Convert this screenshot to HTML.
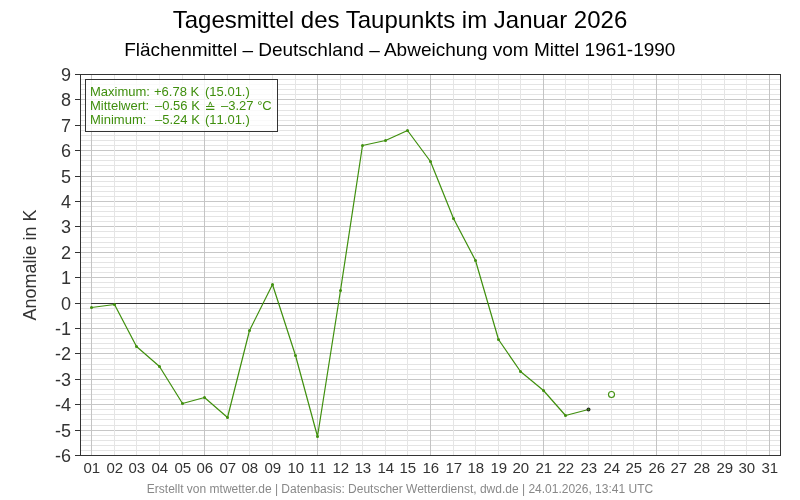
<!DOCTYPE html>
<html lang="de"><head><meta charset="utf-8">
<title>Tagesmittel des Taupunkts im Januar 2026</title>
<style>
html,body{margin:0;padding:0;background:#ffffff;}
body{width:800px;height:500px;overflow:hidden;}
svg{display:block;will-change:transform;}
text{font-family:"Liberation Sans",sans-serif;}
</style></head><body>
<svg width="800" height="500" viewBox="0 0 800 500">
<rect x="0" y="0" width="800" height="500" fill="#ffffff"/>
<g shape-rendering="crispEdges" stroke-width="1" fill="none">
<path d="M81 79.5H780M81 84.5H780M81 89.5H780M81 94.5H780M81 104.5H780M81 110.5H780M81 115.5H780M81 120.5H780M81 130.5H780M81 135.5H780M81 140.5H780M81 145.5H780M81 155.5H780M81 160.5H780M81 165.5H780M81 171.5H780M81 181.5H780M81 186.5H780M81 191.5H780M81 196.5H780M81 206.5H780M81 211.5H780M81 216.5H780M81 221.5H780M81 231.5H780M81 237.5H780M81 242.5H780M81 247.5H780M81 257.5H780M81 262.5H780M81 267.5H780M81 272.5H780M81 282.5H780M81 287.5H780M81 292.5H780M81 298.5H780M81 308.5H780M81 313.5H780M81 318.5H780M81 323.5H780M81 333.5H780M81 338.5H780M81 343.5H780M81 348.5H780M81 358.5H780M81 364.5H780M81 369.5H780M81 374.5H780M81 384.5H780M81 389.5H780M81 394.5H780M81 399.5H780M81 409.5H780M81 414.5H780M81 419.5H780M81 425.5H780M81 435.5H780M81 440.5H780M81 445.5H780M81 450.5H780" stroke="#e4e4e4"/>
<path d="M81 99.5H780M81 125.5H780M81 150.5H780M81 176.5H780M81 201.5H780M81 226.5H780M81 252.5H780M81 277.5H780M81 303.5H780M81 328.5H780M81 353.5H780M81 379.5H780M81 404.5H780M81 430.5H780" stroke="#c7c7c7"/>
<path d="M114.5 75V455M136.5 75V455M159.5 75V455M182.5 75V455M227.5 75V455M249.5 75V455M272.5 75V455M295.5 75V455M340.5 75V455M362.5 75V455M385.5 75V455M407.5 75V455M453.5 75V455M475.5 75V455M498.5 75V455M520.5 75V455M565.5 75V455M588.5 75V455M611.5 75V455M633.5 75V455M678.5 75V455M701.5 75V455M724.5 75V455M746.5 75V455" stroke="#e5e5e5"/>
<path d="M91.5 75V455M204.5 75V455M317.5 75V455M430.5 75V455M543.5 75V455M656.5 75V455M769.5 75V455" stroke="#c4c4c4"/>
<path d="M91 303.5H770" stroke="#333333"/>
<rect x="80.5" y="74.5" width="700" height="381" stroke="#333333"/>
<path d="M75 74.5H80M75 99.5H80M75 125.5H80M75 150.5H80M75 176.5H80M75 201.5H80M75 226.5H80M75 252.5H80M75 277.5H80M75 303.5H80M75 328.5H80M75 353.5H80M75 379.5H80M75 404.5H80M75 430.5H80M75 455.5H80" stroke="#333333"/>
</g>
<polyline points="91.5,307.5 114.5,304.5 136.5,346.5 159.5,366.5 182.5,403.5 204.5,397.5 227.5,417.5 249.5,330.5 272.5,284.5 295.5,355.5 317.5,436.5 340.5,290.5 362.5,145.5 385.5,140.5 407.5,130.5 430.5,161.5 453.5,218.5 475.5,260.5 498.5,339.5 520.5,371.5 543.5,390.5 565.5,415.5 588.5,409.5" fill="none" stroke="#3f8f0d" stroke-width="1.2" stroke-linejoin="round" stroke-linecap="round"/>
<circle cx="91.5" cy="307.5" r="1.5" fill="#3f8f0d"/>
<circle cx="114.5" cy="304.5" r="1.5" fill="#3f8f0d"/>
<circle cx="136.5" cy="346.5" r="1.5" fill="#3f8f0d"/>
<circle cx="159.5" cy="366.5" r="1.5" fill="#3f8f0d"/>
<circle cx="182.5" cy="403.5" r="1.5" fill="#3f8f0d"/>
<circle cx="204.5" cy="397.5" r="1.5" fill="#3f8f0d"/>
<circle cx="227.5" cy="417.5" r="1.5" fill="#3f8f0d"/>
<circle cx="249.5" cy="330.5" r="1.5" fill="#3f8f0d"/>
<circle cx="272.5" cy="284.5" r="1.5" fill="#3f8f0d"/>
<circle cx="295.5" cy="355.5" r="1.5" fill="#3f8f0d"/>
<circle cx="317.5" cy="436.5" r="1.5" fill="#3f8f0d"/>
<circle cx="340.5" cy="290.5" r="1.5" fill="#3f8f0d"/>
<circle cx="362.5" cy="145.5" r="1.5" fill="#3f8f0d"/>
<circle cx="385.5" cy="140.5" r="1.5" fill="#3f8f0d"/>
<circle cx="407.5" cy="130.5" r="1.5" fill="#3f8f0d"/>
<circle cx="430.5" cy="161.5" r="1.5" fill="#3f8f0d"/>
<circle cx="453.5" cy="218.5" r="1.5" fill="#3f8f0d"/>
<circle cx="475.5" cy="260.5" r="1.5" fill="#3f8f0d"/>
<circle cx="498.5" cy="339.5" r="1.5" fill="#3f8f0d"/>
<circle cx="520.5" cy="371.5" r="1.5" fill="#3f8f0d"/>
<circle cx="543.5" cy="390.5" r="1.5" fill="#3f8f0d"/>
<circle cx="565.5" cy="415.5" r="1.5" fill="#3f8f0d"/>
<circle cx="588.5" cy="409.5" r="1.95" fill="#262626"/>
<circle cx="588.5" cy="409.5" r="1.0" fill="#3f8f0d"/>
<circle cx="611.5" cy="394.5" r="3" fill="#ffffff" fill-opacity="0.8" stroke="#3f8f0d" stroke-width="1.1"/>
<rect x="85.5" y="79.5" width="192" height="52" fill="#ffffff" fill-opacity="0.8" stroke="#333333" stroke-width="1" shape-rendering="crispEdges"/>
<g font-size="13px" fill="#3f8f0d">
<text x="90" y="96">Maximum:</text>
<text x="154" y="96">+6.78 K</text>
<text x="205" y="96">(15.01.)</text>
<text x="90" y="110">Mittelwert:</text>
<text x="155" y="110">–0.56 K</text>
<path d="M206 106.5H214.4M206 109.4H214.4" fill="none" stroke="#3f8f0d" stroke-width="1.15"/>
<path d="M208.7 105.8L210.3 101.9L211.9 105.8" fill="none" stroke="#3f8f0d" stroke-width="0.95" stroke-linejoin="round"/>
<text x="221" y="110">–3.27 °C</text>
<text x="90" y="124">Minimum:</text>
<text x="155" y="124">–5.24 K</text>
<text x="205" y="124" style="font-kerning:none">(11.01.)</text>
</g>
<text x="400" y="28" font-size="24px" text-anchor="middle" fill="#000000">Tagesmittel des Taupunkts im Januar 2026</text>
<text x="399.8" y="56" font-size="19px" text-anchor="middle" fill="#000000">Flächenmittel – Deutschland – Abweichung vom Mittel 1961-1990</text>
<g font-size="18px" fill="#333333" text-anchor="end">
<text x="71" y="80.5">9</text>
<text x="71" y="105.5">8</text>
<text x="71" y="131.5">7</text>
<text x="71" y="156.5">6</text>
<text x="71" y="182.5">5</text>
<text x="71" y="207.5">4</text>
<text x="71" y="232.5">3</text>
<text x="71" y="258.5">2</text>
<text x="71" y="283.5">1</text>
<text x="71" y="309.5">0</text>
<text x="71" y="334.5">-1</text>
<text x="71" y="359.5">-2</text>
<text x="71" y="385.5">-3</text>
<text x="71" y="410.5">-4</text>
<text x="71" y="436.5">-5</text>
<text x="71" y="461.5">-6</text>
</g>
<g font-size="15px" fill="#333333" text-anchor="middle" style="font-kerning:none">
<text x="91.8" y="473">01</text>
<text x="114.8" y="473">02</text>
<text x="136.8" y="473">03</text>
<text x="159.8" y="473">04</text>
<text x="182.8" y="473">05</text>
<text x="204.8" y="473">06</text>
<text x="227.8" y="473">07</text>
<text x="249.8" y="473">08</text>
<text x="272.8" y="473">09</text>
<text x="295.8" y="473">10</text>
<text x="317.8" y="473">11</text>
<text x="340.8" y="473">12</text>
<text x="362.8" y="473">13</text>
<text x="385.8" y="473">14</text>
<text x="407.8" y="473">15</text>
<text x="430.8" y="473">16</text>
<text x="453.8" y="473">17</text>
<text x="475.8" y="473">18</text>
<text x="498.8" y="473">19</text>
<text x="520.8" y="473">20</text>
<text x="543.8" y="473">21</text>
<text x="565.8" y="473">22</text>
<text x="588.8" y="473">23</text>
<text x="611.8" y="473">24</text>
<text x="633.8" y="473">25</text>
<text x="656.8" y="473">26</text>
<text x="678.8" y="473">27</text>
<text x="701.8" y="473">28</text>
<text x="724.8" y="473">29</text>
<text x="746.8" y="473">30</text>
<text x="769.8" y="473">31</text>
</g>
<text transform="translate(36,265) rotate(-90)" font-size="18px" text-anchor="middle" fill="#333333">Anomalie in K</text>
<text x="400" y="493" font-size="12px" text-anchor="middle" fill="#888888">Erstellt von mtwetter.de | Datenbasis: Deutscher Wetterdienst, dwd.de | 24.01.2026, 13:41 UTC</text>
</svg></body></html>
